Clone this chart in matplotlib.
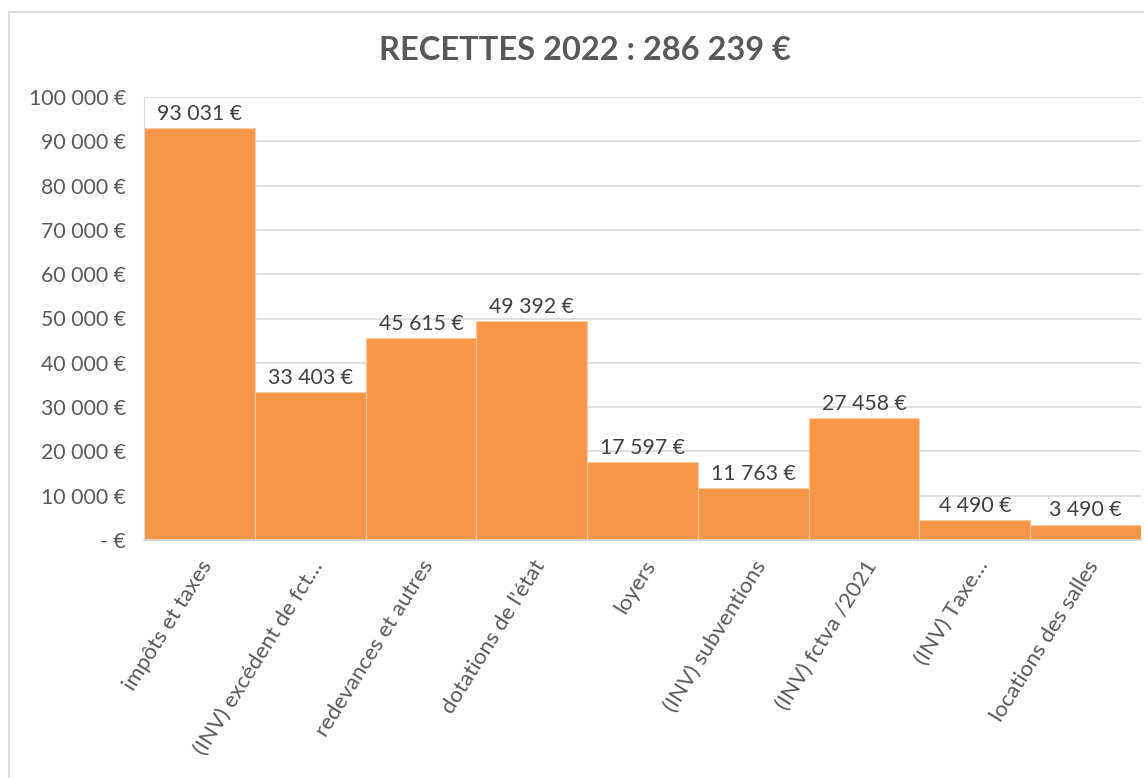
import matplotlib
matplotlib.use("Agg")
import matplotlib.pyplot as plt
from matplotlib.patches import Rectangle

plt.rcParams['font.family'] = ['Lato', 'DejaVu Sans']

categories = ["impôts et taxes", "(INV) excédent de fct…", "redevances et autres",
              "dotations de l'état", "loyers", "(INV) subventions", "(INV) fctva /2021",
              "(INV) Taxe…", "locations des salles"]
values = [93031, 33403, 45615, 49392, 17597, 11763, 27458, 4490, 3490]
yticks = [0, 10000, 20000, 30000, 40000, 50000, 60000, 70000, 80000, 90000, 100000]
ytick_labels = ["- €", "10 000 €", "20 000 €", "30 000 €", "40 000 €", "50 000 €",
                "60 000 €", "70 000 €", "80 000 €", "90 000 €", "100 000 €"]
title = "RECETTES 2022 : 286 239 €"

def fmt(v):
    return f"{v:,}".replace(",", " ") + " €"

W, H = 1144, 778
fig = plt.figure(figsize=(W/100, H/100), dpi=100)
ax = fig.add_axes([144/W, 1-540/H, (1141-144)/W, (540-97)/H])

x = range(len(categories))
ax.bar(x, values, width=1.0, color="#F79646", edgecolor="#FAC89E", linewidth=0.8, zorder=2)
ax.set_xlim(-0.5, len(categories)-0.5)
ax.set_ylim(0, 100000)
ax.set_yticks(yticks)
ax.set_yticklabels(ytick_labels, fontsize=15.3, color="#595959")
ax.set_xticks(list(x))
ax.set_xticklabels(categories, rotation=58, ha='right', rotation_mode='anchor',
                   fontsize=16, color="#595959")
ax.tick_params(axis='both', length=0)
ax.tick_params(axis='y', pad=13)
ax.tick_params(axis='x', pad=12)
ax.grid(axis='y', color="#D9D9D9", linewidth=1.2, zorder=0)
ax.set_axisbelow(True)
for s in ['top', 'right']:
    ax.spines[s].set_visible(False)
ax.spines['left'].set_color("#D9D9D9")
ax.spines['bottom'].set_color("#D9D9D9")
ax.spines['bottom'].set_linewidth(1.2)

for i, v in enumerate(values):
    ax.annotate(fmt(v), (i, v), xytext=(0, 3), textcoords='offset points',
                ha='center', va='bottom', fontsize=15.3, color="#404040")

fig.text(585/W, 1-50/H, title, ha='center', va='center', fontsize=23.5,
         fontweight='bold', color="#595959")

fig.patches.append(Rectangle((9/W, -0.1), 1.2, 1+0.1-12/H, transform=fig.transFigure,
                             fill=False, edgecolor="#D9D9D9", linewidth=1.2))

fig.savefig("out.png", dpi=100)
